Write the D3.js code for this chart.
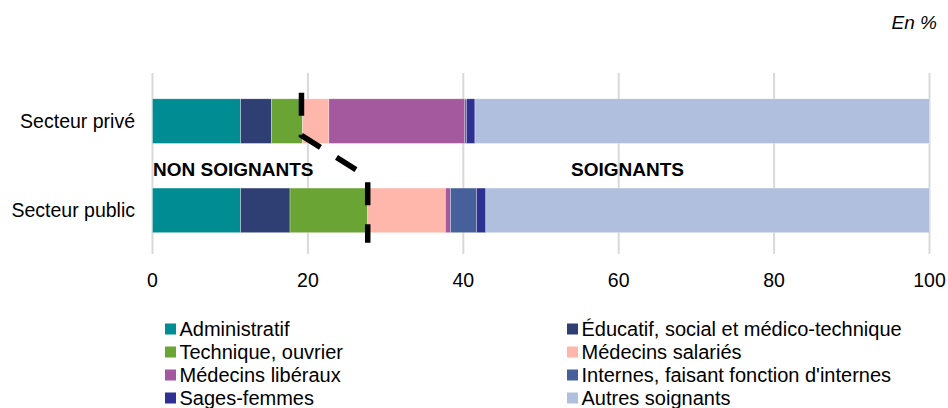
<!DOCTYPE html>
<html>
<head>
<meta charset="utf-8">
<script src="https://cdn.jsdelivr.net/npm/d3@7"></script>
<style>
  body { margin: 0; background: #fff; }
  svg { font-family: "Liberation Sans", Arial, sans-serif; }
</style>
</head>
<body>
<svg width="948" height="408"></svg>
<script>
// Secteurs (une barre chacun)
const sectors = ["Secteur privé", "Secteur public"];

// Catégories de personnel, dans l'ordre d'empilement
const categories = [
  "Administratif",
  "Éducatif, social et médico-technique",
  "Technique, ouvrier",
  "Médecins salariés",
  "Médecins libéraux",
  "Internes, faisant fonction d'internes",
  "Sages-femmes",
  "Autres soignants"
];

const colors = ["#008c93", "#2f3f73", "#6aa434", "#ffb6ab", "#a4589e", "#46609b", "#2e3192", "#b0bfdd"];

// Parts en %
const prive  = [11.35, 3.95, 4.0, 3.4, 17.5, 0.2, 1.1, 58.5];
const public_ = [11.35, 6.35, 10.0, 10.0, 0.65, 3.35, 1.2, 57.1];

const xTicks = [0, 20, 40, 60, 80, 100];

// nombre de catégories "non soignants" (les 3 premières)
const nNonSoignants = 3;

const svg = d3.select("svg");

const x = d3.scaleLinear().domain([0, 100]).range([152.5, 929.5]);
const y = d3.scaleBand().domain(sectors).range([76.5, 255]).paddingInner(0.5).paddingOuter(0.25);

// build rows for stacking
const rows = sectors.map(function(s, i) {
  const vals = i === 0 ? prive : public_;
  const r = {sector: s};
  categories.forEach(function(c, j) { r[c] = vals[j]; });
  return r;
});

const stack = d3.stack().keys(categories);
const series = stack(rows);

// gridlines
svg.append("g")
  .selectAll("line")
  .data(xTicks)
  .enter().append("line")
    .attr("x1", d => x(d)).attr("x2", d => x(d))
    .attr("y1", 73).attr("y2", 254)
    .attr("stroke", "#d9d9d9")
    .attr("stroke-width", 2);

// bars
svg.append("g")
  .selectAll("g")
  .data(series)
  .enter().append("g")
    .attr("fill", (d, i) => colors[i])
  .selectAll("rect")
  .data(d => d)
  .enter().append("rect")
    .attr("x", d => x(d[0]))
    .attr("y", d => y(d.data.sector))
    .attr("width", d => x(d[1]) - x(d[0]))
    .attr("height", y.bandwidth())
    .attr("stroke", "#ffffff")
    .attr("stroke-opacity", 0.5)
    .attr("stroke-width", 0.6);

// axis tick labels
svg.append("g")
  .selectAll("text")
  .data(xTicks)
  .enter().append("text")
    .attr("x", d => x(d))
    .attr("y", 286.5)
    .attr("text-anchor", "middle")
    .attr("font-size", "19.5px")
    .attr("fill", "#000")
    .text(d => d);

// sector labels
svg.append("g")
  .selectAll("text")
  .data(sectors)
  .enter().append("text")
    .attr("x", 135)
    .attr("y", d => y(d) + y.bandwidth() / 2 + 7)
    .attr("text-anchor", "end")
    .attr("font-size", "19.5px")
    .attr("fill", "#000")
    .text(d => d);

// dashed separator between non soignants / soignants
const cutPrive = d3.sum(prive.slice(0, nNonSoignants));
const cutPublic = d3.sum(public_.slice(0, nNonSoignants));
const yP = y(sectors[0]), yQ = y(sectors[1]), bw = y.bandwidth();
const sep = [
  [x(cutPrive) - 1, yP - 6],
  [x(cutPrive) - 1, yP + bw - 8],
  [x(cutPublic), yQ - 11],
  [x(cutPublic), yQ + bw + 10]
];
svg.append("path")
  .attr("d", d3.line()(sep))
  .attr("fill", "none")
  .attr("stroke", "#000")
  .attr("stroke-width", 5.5)
  .attr("stroke-dasharray", "23,19");

// group labels
svg.append("text")
  .attr("x", 153).attr("y", 176)
  .attr("font-size", "19px").attr("font-weight", "bold")
  .text("NON SOIGNANTS");
svg.append("text")
  .attr("x", 571).attr("y", 176)
  .attr("font-size", "19px").attr("font-weight", "bold")
  .text("SOIGNANTS");

// unit
svg.append("text")
  .attr("x", 937).attr("y", 29)
  .attr("text-anchor", "end")
  .attr("font-size", "19px").attr("font-style", "italic")
  .text("En %");

// legend (2 columns, filled row by row)
const legend = svg.append("g")
  .selectAll("g")
  .data(categories)
  .enter().append("g")
    .attr("transform", (d, i) => "translate(" + (i % 2 === 0 ? 165 : 567) + "," + (329 + Math.floor(i / 2) * 23) + ")");

legend.append("rect")
  .attr("x", 0).attr("y", -5.5)
  .attr("width", 11).attr("height", 11)
  .attr("fill", (d, i) => colors[i]);

legend.append("text")
  .attr("x", 14.5).attr("y", 6.5)
  .attr("font-size", "20px")
  .text(d => d);
</script>
</body>
</html>
